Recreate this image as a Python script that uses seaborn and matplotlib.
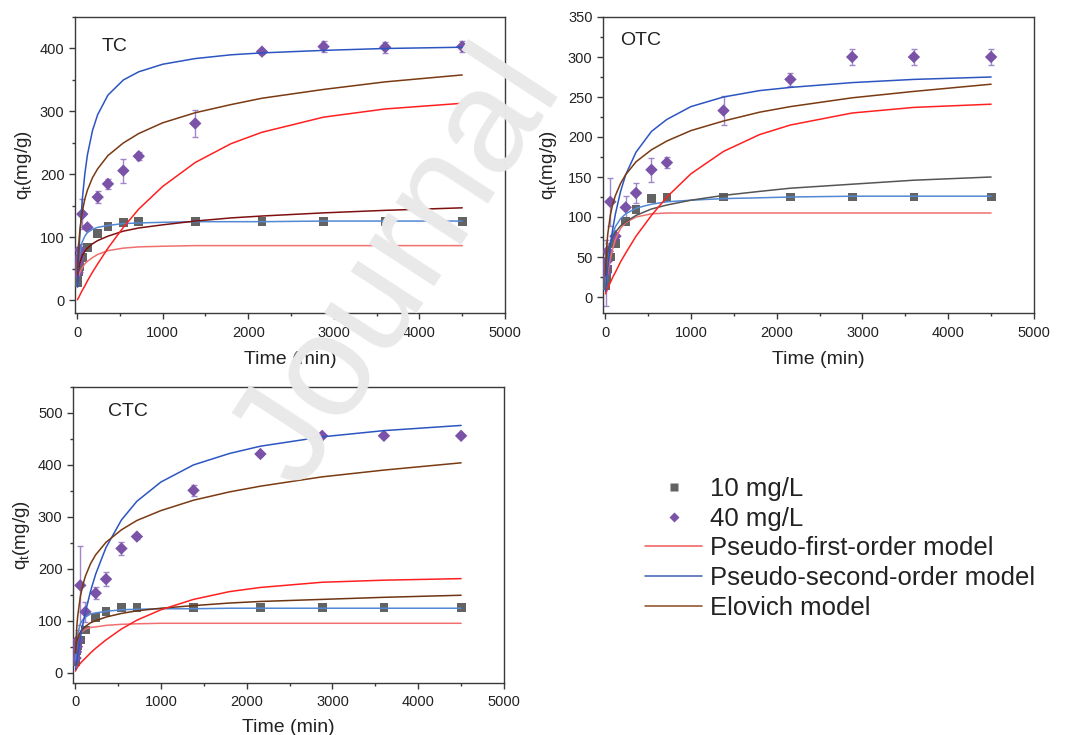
import numpy as np
import pandas as pd
import matplotlib
matplotlib.use("Agg")
import matplotlib.pyplot as plt
from matplotlib.lines import Line2D
from matplotlib.ticker import MultipleLocator
import seaborn as sns

# ---------------- data ----------------
# experimental sampling times (min)
times = [5, 10, 20, 30, 60, 120, 240, 360, 540, 720, 1380, 2160, 2880, 3600, 4500]

tc_10 = [28, 36, 45, 54, 68, 84, 106, 117, 124, 125, 125, 125, 125, 125, 125]
tc_40 = [44, 60, 68, 80, 137, 116, 164, 185, 206, 229, 281, 395, 403, 402, 403]
tc_40_err = [18, 10, 6, 10, 24, 4, 10, 8, 19, 6, 21, 3, 9, 9, 9]

otc_10 = [14, 18, 25, 35, 50, 67, 94, 109, 123, 124, 125, 125, 125, 125, 125]
otc_40 = [30, 38, 45, 57, 119, 76, 112, 130, 159, 168, 233, 272, 300, 300, 300]
otc_40_err = [41, 10, 8, 10, 30, 4, 14, 13, 15, 7, 18, 8, 10, 10, 10]

ctc_10 = [22, 30, 42, 52, 63, 82, 106, 118, 125, 125, 125, 125, 125, 125, 125]
ctc_40 = [28, 40, 50, 62, 168, 117, 153, 180, 239, 262, 351, 421, 456, 456, 456]
ctc_40_err = [12, 25, 12, 20, 76, 19, 11, 13, 13, 5, 11, 4, 2, 2, 2]

# model curves, values
curve_t = [5, 10, 20, 30, 60, 90, 120, 180, 240, 360, 540, 720, 1000, 1380, 1800, 2160, 2880, 3600, 4500]

tc_pfo40 = [1, 3, 5, 8, 16, 23, 31, 45, 58, 83, 116, 145, 181, 219, 249, 267, 291, 304, 313]
tc_pso40 = [21, 40, 72, 100, 160, 201, 231, 270, 295, 326, 350, 363, 375, 384, 390, 393, 397, 400, 402]
tc_elo40 = [41, 64, 91, 109, 141, 161, 175, 195, 209, 230, 250, 265, 282, 298, 311, 321, 335, 347, 358]
tc_pfo10 = [34, 36, 40, 44, 52, 58, 62, 68, 73, 79, 83, 85, 86, 87, 87, 87, 87, 87, 87]
tc_pso10 = [24, 40, 61, 74, 93, 102, 108, 113, 116, 119, 122, 123, 124, 125, 125, 125, 126, 126, 126]
tc_elo10 = [30, 41, 52, 59, 71, 78, 83, 90, 95, 102, 110, 115, 120, 126, 131, 134, 139, 143, 147]

otc_pfo40 = [4, 6, 8, 11, 18, 25, 31, 44, 55, 76, 102, 125, 154, 182, 203, 215, 230, 237, 241]
otc_pso40 = [7, 13, 25, 36, 64, 86, 104, 132, 153, 181, 207, 222, 238, 250, 258, 262, 268, 272, 275]
otc_elo40 = [28, 44, 65, 78, 102, 117, 127, 142, 153, 169, 184, 195, 208, 220, 231, 238, 249, 257, 266]
otc_pfo10 = [10, 16, 24, 30, 48, 61, 72, 86, 93, 100, 104, 105, 105, 105, 105, 105, 105, 105, 105]
otc_pso10 = [11, 20, 34, 45, 67, 79, 88, 98, 104, 111, 116, 119, 121, 123, 124, 125, 126, 126, 126]
otc_elo10 = [26, 37, 48, 56, 68, 76, 81, 89, 94, 102, 110, 115, 121, 127, 132, 136, 141, 146, 150]

ctc_pfo40 = [3, 6, 8, 11, 18, 23, 28, 38, 47, 63, 84, 101, 121, 141, 156, 164, 174, 178, 181]
ctc_pso40 = [6, 12, 24, 35, 66, 93, 117, 157, 190, 241, 294, 330, 367, 400, 422, 436, 454, 466, 476]
ctc_elo40 = [37, 60, 90, 109, 146, 169, 186, 210, 227, 251, 275, 293, 312, 332, 348, 359, 377, 390, 404]
ctc_pfo10 = [60, 64, 67, 69, 75, 80, 84, 87, 88, 91, 93, 94, 95, 95, 95, 95, 95, 95, 95]
ctc_pso10 = [25, 42, 63, 75, 94, 102, 107, 113, 115, 118, 121, 122, 123, 123, 124, 124, 124, 124, 124]
ctc_elo10 = [38, 49, 60, 66, 78, 84, 89, 96, 100, 107, 114, 119, 124, 129, 134, 137, 141, 145, 149]

panel_names = ["TC", "OTC", "CTC"]
legend_labels = ["10 mg/L", "40 mg/L", "Pseudo-first-order model",
                 "Pseudo-second-order model", "Elovich model"]
watermark = "Journal"

# ---------------- style ----------------
sns.set_theme(style="ticks")
plt.rcParams["font.family"] = ["Liberation Sans", "DejaVu Sans"]
plt.rcParams["mathtext.fontset"] = "custom"
plt.rcParams["mathtext.rm"] = "Liberation Sans"
plt.rcParams["mathtext.it"] = "Liberation Sans"

C_SQ = "#636363"
C_DI = "#7a52a8"
C_ERR = "#a088c8"
C_RED40, C_RED10 = "#ff2020", "#f07070"
C_BLUE40, C_BLUE10 = "#2c55c2", "#5288d4"
C_BROWN40 = "#7a3a12"
elo10_colors = {"TC": "#7e1010", "OTC": "#555555", "CTC": "#6e3512"}
SPINE = "#3a3a3a"
TXT = "#222222"

W, H = 1068, 735
fig = plt.figure(figsize=(10.68, 7.35), dpi=100)
fig.patch.set_facecolor("white")

# faint watermark behind the panels (kept inside the figure)
fig.text(300 / W, 1 - 490 / H, watermark, rotation=57, rotation_mode="anchor",
         ha="left", va="baseline", fontsize=106, color="#e9e9e9", zorder=0)

boxes = {
    "TC": (75, 17, 430, 296),
    "OTC": (603, 17, 431, 296),
    "CTC": (73, 387, 431, 296),
}
ylims = {"TC": (-20, 450), "OTC": (-20, 350), "CTC": (-20, 550)}
ymaj = {"TC": 100, "OTC": 50, "CTC": 100}
label_pos = {"TC": (0.062, 0.90), "OTC": (0.040, 0.92), "CTC": (0.081, 0.917)}
xlabelpad = {"TC": 8.5, "OTC": 8.5, "CTC": 6.5}
ylabelpad = {"TC": 4.5, "OTC": 6.5, "CTC": 4.5}

panels = {
    "TC": (tc_10, tc_40, tc_40_err, tc_pfo40, tc_pso40, tc_elo40, tc_pfo10, tc_pso10, tc_elo10),
    "OTC": (otc_10, otc_40, otc_40_err, otc_pfo40, otc_pso40, otc_elo40, otc_pfo10, otc_pso10, otc_elo10),
    "CTC": (ctc_10, ctc_40, ctc_40_err, ctc_pfo40, ctc_pso40, ctc_elo40, ctc_pfo10, ctc_pso10, ctc_elo10),
}

for name in panel_names:
    l, t, w, h = boxes[name]
    ax = fig.add_axes([l / W, 1 - (t + h) / H, w / W, h / H])
    ax.set_facecolor("none")
    q10, q40, e40, pfo40, pso40, elo40, pfo10, pso10, elo10 = panels[name]

    ax.errorbar(times, q40, yerr=e40, fmt="none", ecolor=C_ERR, elinewidth=1.0,
                capsize=2.5, capthick=1.0, zorder=2)
    sns.scatterplot(x=times, y=q10, marker="s", s=40, color=C_SQ, edgecolor="none",
                    linewidth=0, ax=ax, zorder=3, legend=False)
    sns.scatterplot(x=times, y=q40, marker="D", s=40, color=C_DI, edgecolor="none",
                    linewidth=0, ax=ax, zorder=3, legend=False)

    for vals, col in [(pfo10, C_RED10), (pso10, C_BLUE10), (elo10, elo10_colors[name]),
                      (pfo40, C_RED40), (pso40, C_BLUE40), (elo40, C_BROWN40)]:
        sns.lineplot(x=curve_t, y=vals, ax=ax, color=col, lw=1.1, estimator=None,
                     sort=False, legend=False, zorder=4)

    ax.set_xlim(-25, 5000)
    ax.set_ylim(*ylims[name])
    ax.xaxis.set_major_locator(MultipleLocator(1000))
    ax.xaxis.set_minor_locator(MultipleLocator(500))
    ax.yaxis.set_major_locator(MultipleLocator(ymaj[name]))
    ax.yaxis.set_minor_locator(MultipleLocator(ymaj[name] / 2))
    ax.tick_params(which="major", direction="out", length=4.5, width=1.0,
                   color=SPINE, labelsize=10.5, labelcolor=TXT, pad=3)
    ax.tick_params(axis="x", which="major", pad=4.5)
    ax.tick_params(which="minor", direction="out", length=2.5, width=1.0, color=SPINE)
    for sp in ax.spines.values():
        sp.set_color(SPINE)
        sp.set_linewidth(1.0)
    ax.set_xlabel("Time (min)", fontsize=14, color=TXT, labelpad=xlabelpad[name])
    ax.set_ylabel(r"q$_\mathregular{t}$(mg/g)", fontsize=13.5, color=TXT,
                  labelpad=ylabelpad[name])
    ax.text(*label_pos[name], name, transform=ax.transAxes, fontsize=14,
            ha="left", va="center", color=TXT)

handles = [
    Line2D([], [], ls="none", marker="s", ms=5.5, color=C_SQ, mec="none"),
    Line2D([], [], ls="none", marker="D", ms=5.0, color=C_DI, mec="none"),
    Line2D([], [], color="#f05a5a", lw=1.1),
    Line2D([], [], color="#3f5fb2", lw=1.1),
    Line2D([], [], color="#8a4a22", lw=1.1),
]
fig.legend(handles, legend_labels, loc="upper left", bbox_to_anchor=(645 / W, 1 - 477 / H),
           frameon=False, fontsize=18.5, handlelength=2.23, handletextpad=0.31,
           labelspacing=0.22, borderpad=0, borderaxespad=0, labelcolor=TXT)

fig.savefig("out.png", dpi=100, facecolor="white")
